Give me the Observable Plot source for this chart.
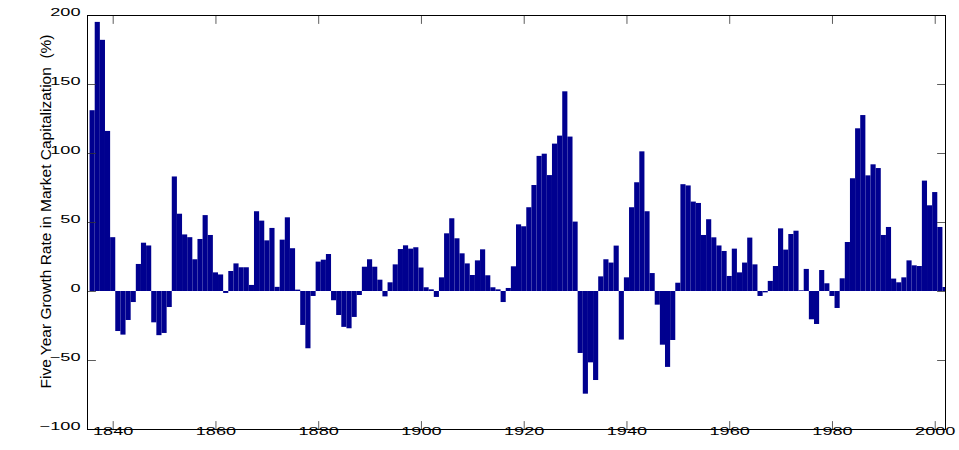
<!DOCTYPE html>
<html>
<head>
<meta charset="utf-8">
<script src="https://cdn.jsdelivr.net/npm/d3@7"></script>
<script src="https://cdn.jsdelivr.net/npm/@observablehq/plot@0.6"></script>
<style>
  html, body { margin: 0; padding: 0; background: #fff; }
  #chart { width: 959px; height: 450px; }
</style>
</head>
<body>
<div id="chart"></div>
<script>
// Years (categories): one bar per year, 1836 through 2002
const years = d3.range(1836, 2003);

// Five-year growth rate in market capitalization (%)
const growth = [
  131, 195, 182, 116, 39, -29, -31.6, -21, -8, 19.6,          // 1836-1845
  35, 33, -22.7, -32, -30.4, -11.6, 83, 56, 41, 39,            // 1846-1855
  23, 37.7, 55, 40.6, 13.5, 12, -1.4, 14.5, 20, 17.2,          // 1856-1865
  17.2, 4.4, 57.8, 51, 36.7, 45.7, 3, 37.2, 53.4, 31,          // 1866-1875
  1, -24.6, -41.5, -3.6, 21.3, 22.7, 26.8, -6.7, -17.4, -26,   // 1876-1885
  -27, -18.8, -2.9, 17.6, 23, 17.6, 8.2, -3.9, 6.3, 19.3,      // 1886-1895
  30.4, 33.1, 30.7, 31.7, 17, 2.7, 1.2, -4.3, 9.9, 41.8,       // 1896-1905
  52.7, 38.2, 27.3, 20, 11.6, 22.2, 30.2, 11.4, 2.7, 1.2,      // 1906-1915
  -8, 2.2, 17.9, 48.3, 46.9, 60.7, 76.8, 97.9, 99.5, 84,       // 1916-1925
  106.8, 112.6, 144.7, 111.9, 50.3, -44.9, -74.4, -51.7, -64.5, 10.6, // 1926-1935
  23, 20.6, 32.9, -35.2, 9.9, 60.7, 78.8, 101.2, 57.8, 13,     // 1936-1945
  -9.9, -38.9, -55, -35.5, 6, 77.4, 76.5, 64.8, 63.8, 40.6,    // 1946-1955
  52, 38.9, 33, 29, 10.9, 30.7, 13.5, 20.6, 38.7, 19.3,        // 1956-1965
  -3.6, -1, 7.3, 18.1, 45.4, 30, 41.3, 43.7, 0.5, 16,          // 1966-1975
  -20.5, -23.9, 15.2, 5.6, -3.6, -12.3, 9.2, 35.5, 81.7, 117.9, // 1976-1985
  127.5, 83.8, 91.8, 89.1, 40.6, 46.4, 9, 6.3, 9.9, 22.2,      // 1986-1995
  18.6, 18.1, 80, 62.1, 71.7, 46.4, 2.9                        // 1996-2002
];

const xTicks = [1840, 1860, 1880, 1900, 1920, 1940, 1960, 1980, 2000];
const yTicks = [-100, -50, 0, 50, 100, 150, 200];
const yLabel = "Five Year Growth Rate in Market Capitalization  (%)";
const xDomain = [1835, 2002];
const yDomain = [-100, 200];
const barColor = "#00008F";

const data = years.map((year, i) => ({year, value: growth[i]}));

// inward tick shape for vector marks
const tickShape = {draw(context, l) { context.moveTo(0, 0); context.lineTo(0, -l); }};
const tickStyle = {length: 8, anchor: "start", shape: tickShape, stroke: "#333", strokeWidth: 0.8};

const chart = Plot.plot({
  width: 959,
  height: 450,
  marginLeft: 87,
  marginRight: 14,
  marginTop: 15,
  marginBottom: 21,
  style: {fontFamily: "'Liberation Sans', Arial, sans-serif", fontSize: "11px", background: "#fff", color: "#000"},
  x: {domain: xDomain},
  y: {domain: yDomain},
  marks: [
    Plot.rect(data, {
      x1: d => d.year - 0.5,
      x2: d => Math.min(d.year + 0.5, xDomain[1]),
      y1: 0,
      y2: "value",
      fill: barColor
    }),
    Plot.vector(xTicks, {x: d => d, y: yDomain[0], rotate: 0, ...tickStyle}),
    Plot.vector(xTicks, {x: d => d, y: yDomain[1], rotate: 180, ...tickStyle}),
    Plot.vector(yTicks, {x: xDomain[0], y: d => d, rotate: 90, ...tickStyle}),
    Plot.vector(yTicks, {x: xDomain[1], y: d => d, rotate: 270, ...tickStyle}),
    Plot.axisX(xTicks, {anchor: "bottom", tickSize: 0, tickPadding: 5, label: null, tickFormat: d => String(d)}),
    Plot.axisY(yTicks, {anchor: "left", tickSize: 0, tickPadding: 7, label: null}),
    Plot.frame({stroke: "black"}),
    Plot.text([yLabel], {frameAnchor: "left", textAnchor: "middle", lineAnchor: "middle", text: d => d, rotate: -90, dx: -41, dy: -11, fontSize: 15.5, fill: "#000"})
  ]
});

// the reference's tick labels are horizontally stretched; reproduce that
function stretch(t, s) {
  const tr = t.getAttribute("transform") || "";
  const x = +t.getAttribute("x") || 0;
  const y = +t.getAttribute("y") || 0;
  t.removeAttribute("x");
  t.removeAttribute("y");
  t.setAttribute("transform", `${tr} translate(${x},${y}) scale(${s},1)`);
}
chart.querySelectorAll('g[aria-label="x-axis tick label"] text, g[aria-label="y-axis tick label"] text')
  .forEach(t => stretch(t, 1.65));

document.getElementById("chart").appendChild(chart);
</script>
</body>
</html>
